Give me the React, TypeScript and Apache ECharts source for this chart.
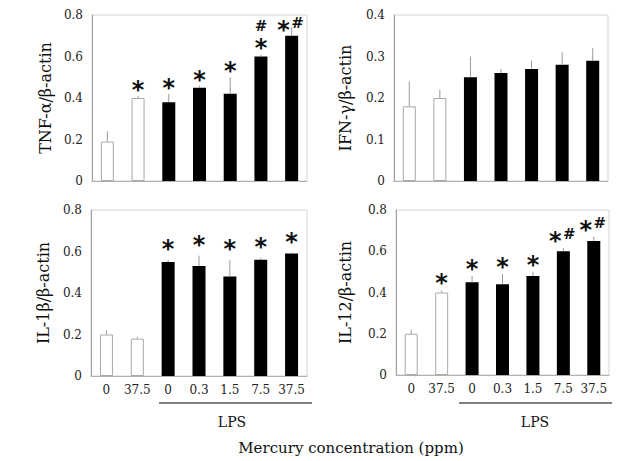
import React, { useEffect, useRef } from "react";
import * as echarts from "echarts";

// Treatment groups along the x axis (mercury, ppm); the last five also received LPS.
const categories = ["0", "37.5", "0", "0.3", "1.5", "7.5", "37.5"];

// Mean mRNA ratios and the upper end of each error bar.
const tnfMean = [0.19, 0.4, 0.38, 0.45, 0.42, 0.6, 0.7];
const tnfErr = [0.24, 0.41, 0.42, 0.46, 0.5, 0.61, 0.74];
const tnfMarks = ["", "*", "*", "*", "*", "#/*", "*#"];

const ifnMean = [0.18, 0.2, 0.25, 0.26, 0.27, 0.28, 0.29];
const ifnErr = [0.24, 0.22, 0.3, 0.27, 0.29, 0.31, 0.32];
const ifnMarks = ["", "", "", "", "", "", ""];

const il1Mean = [0.2, 0.18, 0.55, 0.53, 0.48, 0.56, 0.59];
const il1Err = [0.22, 0.19, 0.56, 0.58, 0.56, 0.57, 0.595];
const il1Marks = ["", "", "*", "*", "*", "*", "*"];

const il12Mean = [0.2, 0.4, 0.45, 0.44, 0.48, 0.6, 0.65];
const il12Err = [0.22, 0.41, 0.48, 0.49, 0.5, 0.615, 0.67];
const il12Marks = ["", "*", "*", "*", "*", "*#", "*#"];

const SERIF = "'DejaVu Serif', 'Liberation Serif', serif";
const STAR_FONT = "bold 24px 'DejaVu Sans', sans-serif";
const HASH_FONT = "bold 15px 'DejaVu Serif', serif";

type Panel = {
  title: string;
  mean: number[];
  err: number[];
  marks: string[];
  max: number;
  interval: number;
  box: { left: number; top: number; width: number; height: number };
  nameGap: number;
  showX: boolean;
  markGap: number;
};

const panels: Panel[] = [
  {
    title: "TNF-α/β-actin",
    mean: tnfMean,
    err: tnfErr,
    marks: tnfMarks,
    max: 0.8,
    interval: 0.2,
    box: { left: 92, top: 15, width: 215, height: 166 },
    nameGap: 39,
    showX: false,
    markGap: 12,
  },
  {
    title: "IFN-γ/β-actin",
    mean: ifnMean,
    err: ifnErr,
    marks: ifnMarks,
    max: 0.4,
    interval: 0.1,
    box: { left: 394, top: 15, width: 214, height: 166 },
    nameGap: 41,
    showX: false,
    markGap: 12,
  },
  {
    title: "IL-1β/β-actin",
    mean: il1Mean,
    err: il1Err,
    marks: il1Marks,
    max: 0.8,
    interval: 0.2,
    box: { left: 91, top: 210, width: 216, height: 166 },
    nameGap: 40,
    showX: true,
    markGap: 17,
  },
  {
    title: "IL-12/β-actin",
    mean: il12Mean,
    err: il12Err,
    marks: il12Marks,
    max: 0.8,
    interval: 0.2,
    box: { left: 396, top: 210, width: 213, height: 165 },
    nameGap: 43,
    showX: true,
    markGap: 13,
  },
];

function markElements(code: string, x: number, y: number, topLimit: number) {
  const star = (sx: number, sy: number) => ({
    type: "text",
    x: sx,
    y: sy,
    style: {
      text: "*",
      font: STAR_FONT,
      lineHeight: 14,
      fill: "#111",
      align: "center",
      verticalAlign: "middle",
    },
  });
  const hash = (hx: number, hy: number) => ({
    type: "text",
    x: hx,
    y: hy,
    style: {
      text: "#",
      font: HASH_FONT,
      lineHeight: 12,
      fill: "#111",
      align: "center",
      verticalAlign: "middle",
    },
  });
  // the asterisk glyph sits high in its em box, so nudge it down
  const starDrop = 6;
  if (code === "*") return [star(x, y + starDrop)];
  if (code === "#/*") return [star(x, y + starDrop), hash(x, y - 16)];
  if (code === "*#") {
    const yy = Math.max(y, topLimit + 9);
    return [star(x - 8, yy + starDrop), hash(x + 6, yy - 1)];
  }
  return [];
}

function buildOption() {
  const grid = panels.map((p) => ({
    ...p.box,
    show: true,
    borderColor: "#d4d4d4",
    borderWidth: 1,
    backgroundColor: "transparent",
  }));

  const xAxis = panels.map((p, i) => ({
    type: "category",
    gridIndex: i,
    data: categories,
    axisLine: { lineStyle: { color: "#b0b0b0", width: 1 } },
    axisTick: { show: false },
    axisLabel: {
      show: p.showX,
      color: "#222",
      fontFamily: SERIF,
      fontSize: 12,
      margin: 8,
      interval: 0,
    },
  }));

  const yAxis = panels.map((p, i) => ({
    type: "value",
    gridIndex: i,
    min: 0,
    max: p.max,
    interval: p.interval,
    name: p.title,
    nameLocation: "middle",
    nameGap: p.nameGap,
    nameTextStyle: { fontFamily: SERIF, fontSize: 16, color: "#111" },
    axisLine: { show: true, lineStyle: { color: "#a0a0a0", width: 1 } },
    axisTick: { show: false },
    splitLine: { show: false },
    axisLabel: {
      color: "#222",
      fontFamily: SERIF,
      fontSize: 12,
      margin: 9,
      formatter: (v: number) => (v === 0 ? "0" : v.toFixed(1)),
    },
  }));

  const series: any[] = [];
  panels.forEach((p, i) => {
    series.push({
      type: "bar",
      xAxisIndex: i,
      yAxisIndex: i,
      barWidth: 13,
      data: p.mean.map((v, k) => ({
        value: v,
        itemStyle:
          k < 2
            ? { color: "#fff", borderColor: "#a8a8a8", borderWidth: 1 }
            : { color: "#000" },
      })),
      z: 2,
    });
    series.push({
      type: "custom",
      xAxisIndex: i,
      yAxisIndex: i,
      z: 3,
      data: p.mean.map((v, k) => [k, v, p.err[k]]),
      renderItem: (_params: any, api: any) => {
        const k = api.value(0);
        const a = api.coord([k, api.value(1)]);
        const b = api.coord([k, api.value(2)]);
        return {
          type: "line",
          shape: { x1: a[0], y1: a[1], x2: b[0], y2: b[1] },
          style: { stroke: "#9a9a9a", lineWidth: 1 },
        };
      },
    });
    series.push({
      type: "custom",
      xAxisIndex: i,
      yAxisIndex: i,
      z: 4,
      clip: false,
      data: p.err.map((v, k) => [k, v]),
      renderItem: (params: any, api: any) => {
        const code = p.marks[params.dataIndex];
        const pt = api.coord([api.value(0), api.value(1)]);
        return {
          type: "group",
          children: markElements(code, pt[0], pt[1] - p.markGap, p.box.top),
        };
      },
    });
  });

  const lpsLine = (x1: number, x2: number) => ({
    type: "line",
    shape: { x1, y1: 403, x2, y2: 403 },
    style: { stroke: "#555", lineWidth: 1.5 },
  });
  const lpsText = (cx: number) => ({
    type: "text",
    x: cx,
    y: 422,
    style: {
      text: "LPS",
      font: `14px ${SERIF}`,
      fill: "#111",
      align: "center",
      verticalAlign: "middle",
    },
  });

  return {
    animation: false,
    backgroundColor: "#fff",
    grid,
    xAxis,
    yAxis,
    series,
    graphic: [
      lpsLine(159, 312),
      lpsText(232),
      lpsLine(459, 612),
      lpsText(535),
      {
        type: "text",
        x: 351,
        y: 448,
        style: {
          text: "Mercury concentration (ppm)",
          font: `15px ${SERIF}`,
          fill: "#111",
          align: "center",
          verticalAlign: "middle",
        },
      },
    ],
  };
}

export default function App() {
  const ref = useRef<HTMLDivElement>(null);
  useEffect(() => {
    if (!ref.current) return;
    const chart = echarts.init(ref.current, undefined, { renderer: "svg" });
    chart.setOption(buildOption() as any);
    return () => chart.dispose();
  }, []);
  return (
    <div
      ref={ref}
      style={{ position: "absolute", left: 0, top: 0, width: 621, height: 461 }}
    />
  );
}
